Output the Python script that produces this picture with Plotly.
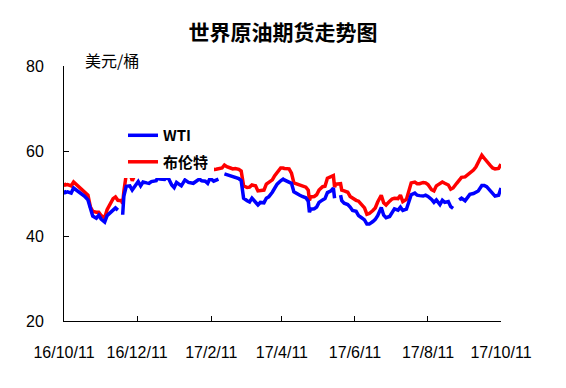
import plotly.graph_objects as go

dates = [
    "2016-10-11","2016-10-12","2016-10-14","2016-10-17","2016-10-19","2016-10-21","2016-10-24","2016-10-26","2016-10-28","2016-10-31",
    "2016-11-02","2016-11-04","2016-11-07","2016-11-09","2016-11-11","2016-11-14","2016-11-16","2016-11-18","2016-11-21","2016-11-23","2016-11-25","2016-11-28","2016-11-29","2016-11-30",
    "2016-12-02","2016-12-05","2016-12-07","2016-12-09","2016-12-12","2016-12-14","2016-12-16","2016-12-19","2016-12-21","2016-12-23","2016-12-27","2016-12-28","2016-12-30",
    "2017-01-03","2017-01-04","2017-01-06","2017-01-09","2017-01-11","2017-01-13","2017-01-17","2017-01-18","2017-01-20","2017-01-23","2017-01-25","2017-01-27","2017-01-30",
    "2017-02-01","2017-02-03","2017-02-06","2017-02-08","2017-02-10","2017-02-13","2017-02-15","2017-02-17","2017-02-20","2017-02-22","2017-02-24","2017-02-27",
    "2017-03-01","2017-03-03","2017-03-06","2017-03-08","2017-03-10","2017-03-13","2017-03-15","2017-03-17","2017-03-20","2017-03-22","2017-03-24","2017-03-27","2017-03-29","2017-03-31",
    "2017-04-03","2017-04-05","2017-04-07","2017-04-10","2017-04-12","2017-04-13","2017-04-17","2017-04-19","2017-04-21","2017-04-24","2017-04-26","2017-04-28",
    "2017-05-01","2017-05-03","2017-05-04","2017-05-05","2017-05-08","2017-05-10","2017-05-12","2017-05-15","2017-05-17","2017-05-19","2017-05-22","2017-05-24","2017-05-25","2017-05-26","2017-05-30","2017-05-31",
    "2017-06-02","2017-06-05","2017-06-07","2017-06-09","2017-06-12","2017-06-14","2017-06-16","2017-06-19","2017-06-21","2017-06-23","2017-06-26","2017-06-28","2017-06-30",
    "2017-07-03","2017-07-05","2017-07-07","2017-07-10","2017-07-12","2017-07-14","2017-07-17","2017-07-19","2017-07-21","2017-07-24","2017-07-26","2017-07-28","2017-07-31",
    "2017-08-02","2017-08-04","2017-08-07","2017-08-09","2017-08-11","2017-08-14","2017-08-16","2017-08-18","2017-08-21","2017-08-23","2017-08-25","2017-08-28","2017-08-30",
    "2017-09-01","2017-09-04","2017-09-06","2017-09-08","2017-09-11","2017-09-13","2017-09-15","2017-09-18","2017-09-20","2017-09-22","2017-09-25","2017-09-27","2017-09-29",
    "2017-10-02","2017-10-04","2017-10-06","2017-10-09","2017-10-10","2017-10-11",
]

wti = [
    50.7,50.2,50.4,50.1,51.3,50.9,50.4,49.9,49.4,48.5,
    46.6,44.7,44.2,44.9,44.0,43.3,44.8,45.4,46.2,46.6,46.1,None,45.0,49.4,
    51.7,51.8,50.8,51.5,52.8,51.8,52.7,52.5,52.4,52.8,53.0,53.6,53.4,
    53.3,53.6,53.7,52.0,51.4,52.6,51.8,52.3,53.2,52.6,52.6,52.4,53.0,
    53.4,53.0,52.9,52.4,53.6,52.9,53.2,53.4,None,54.6,54.4,54.1,
    54.0,53.6,53.5,53.0,48.9,48.3,48.0,48.9,47.9,47.3,47.9,47.8,48.9,49.2,
    50.3,51.1,52.2,53.0,53.4,53.2,52.8,52.4,50.4,49.8,49.6,49.3,
    49.0,48.2,45.6,46.3,46.4,46.8,47.9,48.5,48.8,50.2,50.6,51.3,48.9,None,49.6,48.3,
    47.7,47.4,46.8,46.0,45.8,44.8,44.4,43.8,42.8,42.8,43.4,43.9,44.8,
    46.7,44.9,44.3,44.6,45.5,46.4,46.1,46.8,46.0,46.3,48.0,49.7,50.1,
    49.6,49.5,49.4,49.6,49.3,48.6,47.9,48.5,47.4,48.4,47.9,48.1,46.9,
    46.5,None,48.5,48.9,48.3,49.2,49.8,50.0,50.2,50.6,51.9,51.9,51.6,
    50.6,50.0,49.4,49.6,50.8,51.3,
]

brent = [
    52.4,52.0,52.1,51.8,52.7,52.2,51.5,51.1,50.5,49.6,
    46.9,45.8,45.6,45.6,44.8,44.3,46.2,47.3,48.8,49.2,48.4,48.3,47.6,50.5,
    54.5,54.9,53.0,54.3,54.6,54.2,54.3,55.0,55.3,55.2,56.1,55.8,56.7,
    55.5,56.5,57.1,54.6,54.4,55.5,55.5,55.0,54.6,55.2,55.1,55.5,55.2,
    56.8,56.8,55.7,55.1,56.7,55.6,55.7,55.8,56.0,56.7,56.3,56.0,
    55.8,55.9,55.7,55.3,51.8,51.4,51.5,52.0,51.8,50.6,50.7,50.8,52.2,52.7,
    53.2,54.2,55.0,56.0,56.0,55.9,55.8,54.8,52.5,52.2,51.8,51.7,
    51.5,50.8,48.4,49.2,49.3,49.7,50.8,51.6,51.7,53.6,53.9,54.2,51.5,52.2,52.3,50.8,
    50.6,50.3,49.3,48.9,48.4,48.2,47.5,46.6,45.1,45.3,46.0,46.6,48.0,
    49.6,47.8,47.3,48.2,48.7,48.9,48.8,49.6,48.1,48.6,50.8,52.5,52.7,
    52.3,52.3,52.6,52.5,52.1,50.9,50.6,51.8,52.5,52.7,52.4,52.0,51.0,
    51.3,52.4,53.0,53.8,53.9,54.3,54.8,55.5,56.2,57.2,59.0,58.3,57.5,
    56.6,56.0,55.8,55.9,56.6,56.9,
]

tick_dates = ["2016-10-11","2016-12-11","2017-02-11","2017-04-11","2017-06-11","2017-08-11","2017-10-11"]
tick_labels = ["16/10/11","16/12/11","17/2/11","17/4/11","17/6/11","17/8/11","17/10/11"]

fig = go.Figure()
fig.add_trace(go.Scatter(x=dates, y=brent, mode="lines", name="布伦特",
                         line=dict(color="#FF0000", width=3.5), connectgaps=False,
                         legendrank=2, legendgroup="b"))
fig.add_trace(go.Scatter(x=dates, y=wti, mode="lines", name="WTI",
                         line=dict(color="#0000FF", width=3.5), connectgaps=False,
                         legendrank=1, legendgroup="a"))

axis_font = dict(family="Liberation Sans, Arial", size=16, color="black")

# page has an 8px body margin, so the figure is 8px smaller than the window
W, H = 558, 380
fig.update_layout(
    width=W, height=H,
    margin=dict(l=56, r=65, t=58, b=67, autoexpand=False),
    paper_bgcolor="white", plot_bgcolor="white",
    title=dict(text="<b>世界原油期货走势图</b>", x=275/W, xanchor="center",
               y=1 - 25/H, yanchor="middle",
               font=dict(family="Noto Sans CJK SC", size=21, color="black")),
    showlegend=True,
    legend=dict(x=0.135, y=0.792, xanchor="left", yanchor="top",
                bgcolor="white", borderwidth=0,
                font=dict(family="Noto Sans CJK SC", size=15, color="black", weight="bold"),
                traceorder="grouped", tracegroupgap=4),
    xaxis=dict(type="date", range=["2016-10-11", "2017-10-11"],
               tickvals=tick_dates, ticktext=tick_labels,
               ticks="inside", ticklen=5, tickcolor="black",
               showline=True, linecolor="black", linewidth=1,
               showgrid=False, zeroline=False, tickfont=axis_font,
               ticklabelstandoff=17, automargin=False),
    yaxis=dict(range=[20, 80], tickvals=[20, 40, 60, 80],
               ticks="inside", ticklen=5, tickcolor="black",
               showline=True, linecolor="black", linewidth=1,
               showgrid=False, zeroline=False, tickfont=axis_font,
               ticklabelstandoff=16, automargin=False),
    annotations=[dict(text="美元/桶", xref="paper", yref="paper",
                      x=(83-64)/437, y=(321-60)/255, xanchor="left", yanchor="middle",
                      showarrow=False,
                      font=dict(family="Noto Sans CJK SC", size=16, color="black"))],
)

fig.write_html("out.html")
